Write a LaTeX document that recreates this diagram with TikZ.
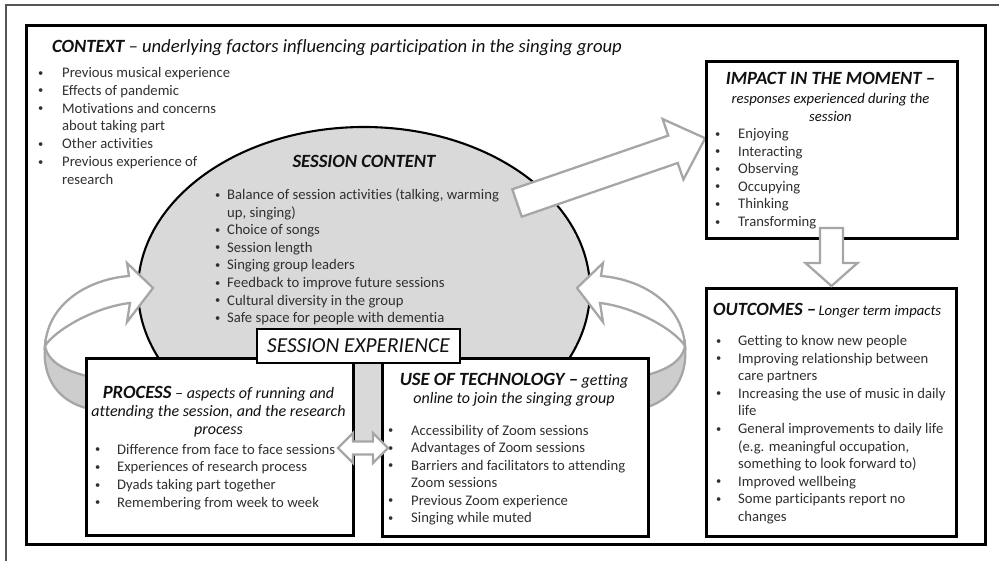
\documentclass[tikz,border=0pt]{standalone}
\usepackage{fontspec}
\setmainfont{Carlito}[Ligatures={TeX,NoCommon}]
\usetikzlibrary{shapes.geometric}

\definecolor{arrowgray}{HTML}{A6A6A6}
\definecolor{bandgray}{HTML}{CDCDCD}
\definecolor{ovalgray}{HTML}{D9D9D9}
\definecolor{bodytext}{HTML}{303030}
\definecolor{headtext}{HTML}{111111}
\definecolor{rulegray}{HTML}{555555}

% bullet lists with a hanging indent
\newlength\txtpos
\newcommand\smallbullet{\raisebox{1.4pt}{\fontsize{10.5}{10}\selectfont\textbullet}}
\newcommand\bitem[1]{\par\noindent\hangindent=\txtpos\hangafter=1\strut\makebox[\txtpos][l]{\smallbullet}#1\strut}
\newcommand\blist[4]{\parbox[t]{#1}{\fontsize{14.67}{#2}\selectfont\setlength\txtpos{#3}#4}}
\newcommand\bodysize{\fontsize{14.67}{17.7}\selectfont}
\newcommand\subsize{\fontsize{16}{18}\selectfont}
\newcommand\headsize{\fontsize{18.67}{18}\selectfont}

\tikzset{
  frame/.style={draw=black, line width=2.6pt},
  box/.style={draw=black, line width=2.6pt, fill=white, inner sep=0pt},
  blockarr/.style={draw=arrowgray, line width=2.3pt, fill=white, line join=miter},
  backband/.style={draw=arrowgray, line width=2.3pt, fill=bandgray},
  lst/.style={anchor=base west, inner sep=0pt, text=bodytext},
  ttl/.style={inner sep=0pt, text=headtext},
}

\begin{document}
\begin{tikzpicture}[x=1pt,y=-1pt]
\useasboundingbox (0,0) rectangle (999,561);

% page frames
\draw[rulegray, line width=1.2pt] (999,5) -- (6,5) -- (6,561);
\node[frame, minimum width=959pt, minimum height=519pt, anchor=north west, inner sep=0pt] (main) at (25,24) {};

% context heading and list
\node[ttl, anchor=base west] (ctxtitle) at (52,53)
  {\headsize\itshape\textbf{CONTEXT} – underlying factors influencing participation in the singing group};
\node[lst] (ctxlist) at (38,77.5) {\blist{240pt}{17.8pt}{24pt}{%
  \bitem{Previous musical experience}
  \bitem{Effects of pandemic}
  \bitem{Motivations and concerns\newline about taking part}
  \bitem{Other activities}
  \bitem{Previous experience of\newline research}}};

% session content oval
\node[ellipse, draw=black, line width=2.1pt, fill=ovalgray, minimum width=452pt, minimum height=326pt, inner sep=0pt] (content) at (364,290) {};

% curved arrows feeding back into the session content
\draw[backband] (45,346) .. controls (48,362) and (65,372) .. (96,378) -- (96,410) .. controls (60,405) and (42,380) .. (45,346) -- cycle;
\draw[blockarr] (129,276) .. controls (90,279) and (48,302) .. (45,346) .. controls (55,330) and (95,307) .. (130,303) -- (127,322) -- (153,288) -- (127,263) -- cycle;
\begin{scope}[shift={(730,0)}, xscale=-1]
\draw[backband] (45,346) .. controls (48,362) and (65,372) .. (96,378) -- (96,410) .. controls (60,405) and (42,380) .. (45,346) -- cycle;
\draw[blockarr] (129,276) .. controls (90,279) and (48,302) .. (45,346) .. controls (55,330) and (95,307) .. (130,303) -- (127,322) -- (153,288) -- (127,263) -- cycle;
\end{scope}

% block arrow from the oval to the impact box
\begin{scope}[shift={(517,203)}, rotate=19]
\draw[blockarr] (0,-14.5) -- (165,-14.5) -- (165,-32) -- (199,0) -- (165,32) -- (165,14.5) -- (0,14.5) -- cycle;
\end{scope}

\node[ttl, anchor=base] (sctitle) at (364,168) {\headsize\itshape\bfseries SESSION CONTENT};
\node[lst] (sclist) at (215,199.5) {\blist{300pt}{17.6pt}{12pt}{%
  \bitem{Balance of session activities (talking, warming\newline up, singing)}
  \bitem{Choice of songs}
  \bitem{Session length}
  \bitem{Singing group leaders}
  \bitem{Feedback to improve future sessions}
  \bitem{Cultural diversity in the group}
  \bitem{Safe space for people with dementia}}};

% boxes
\node[box, minimum width=267pt, minimum height=177pt, anchor=north west] (proc) at (85,357) {};
\node[box, minimum width=266pt, minimum height=178pt, anchor=north west] (tech) at (381,357) {};
\node[box, minimum width=251pt, minimum height=177pt, anchor=north west] (impact) at (705,60) {};
\node[box, minimum width=250pt, minimum height=248pt, anchor=north west] (outc) at (705,287) {};
\node[box, minimum width=203pt, minimum height=34pt, text=headtext, font=\fontsize{21.33}{24}\selectfont\itshape] (sexp) at (358.5,346) {SESSION EXPERIENCE};

% process
\node[ttl, anchor=base] (proctitle) at (218.5,398) {\parbox[t]{262pt}{\centering\subsize\itshape
  {\headsize\bfseries PROCESS} – aspects of running and\\attending the session, and the research\\process}};
\node[lst] (proclist) at (95,454) {\blist{250pt}{17.7pt}{22pt}{%
  \bitem{Difference from face to face sessions}
  \bitem{Experiences of research process}
  \bitem{Dyads taking part together}
  \bitem{Remembering from week to week}}};

% use of technology
\node[ttl, anchor=base] (techtitle) at (514,385) {\parbox[t]{262pt}{\centering\subsize\itshape
  {\headsize\bfseries USE OF TECHNOLOGY –} getting\\online to join the singing group}};
\node[lst] (techlist) at (388,435) {\blist{250pt}{17.6pt}{23pt}{%
  \bitem{Accessibility of Zoom sessions}
  \bitem{Advantages of Zoom sessions}
  \bitem{Barriers and facilitators to attending\newline Zoom sessions}
  \bitem{Previous Zoom experience}
  \bitem{Singing while muted}}};

% impact in the moment
\node[ttl, anchor=base] (imptitle) at (830.5,85) {\parbox[t]{245pt}{\centering\bodysize\itshape
  {\headsize\bfseries IMPACT IN THE MOMENT –}\\[0.8pt]responses experienced during the\\session}};
\node[lst] (implist) at (715,138.5) {\blist{200pt}{17.6pt}{23pt}{%
  \bitem{Enjoying}
  \bitem{Interacting}
  \bitem{Observing}
  \bitem{Occupying}
  \bitem{Thinking}
  \bitem{Transforming}}};

% outcomes
\node[ttl, anchor=base west] (outtitle) at (713,316) {\itshape{\headsize\bfseries OUTCOMES –} {\bodysize Longer term impacts}};
\node[lst] (outlist) at (716,345.5) {\blist{240pt}{17.6pt}{22pt}{%
  \bitem{Getting to know new people}
  \bitem{Improving relationship between\newline care partners}
  \bitem{Increasing the use of music in daily\newline life}
  \bitem{General improvements to daily life\newline (e.g. meaningful occupation,\newline something to look forward to)}
  \bitem{Improved wellbeing}
  \bitem{Some participants report no\newline changes}}};

% arrows between boxes
\draw[blockarr] (338,448) -- (353,433) -- (353,441.5) -- (373,441.5) -- (373,433) -- (388,448)
  -- (373,463) -- (373,454.5) -- (353,454.5) -- (353,463) -- cycle;
\begin{scope}[shift={(831.5,228)}, rotate=-90]
\draw[blockarr] (0,-11.5) -- (35,-11.5) -- (35,-26) -- (58,0) -- (35,26) -- (35,11.5) -- (0,11.5) -- cycle;
\end{scope}
\end{tikzpicture}
\end{document}
